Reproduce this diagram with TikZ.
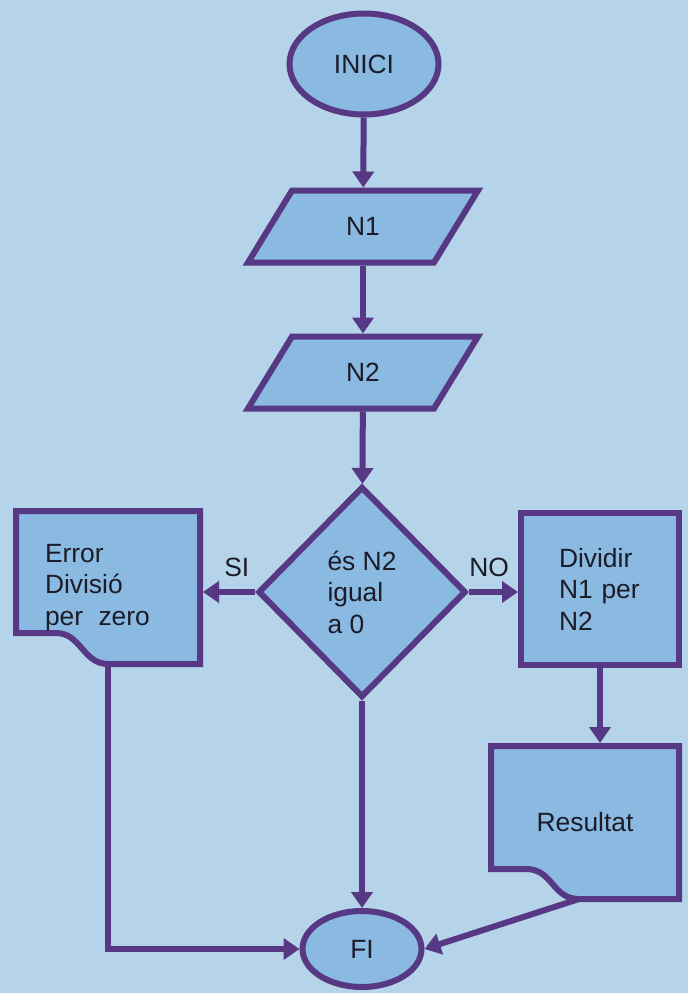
\documentclass[tikz,border=0pt]{standalone}
\usepackage{fontspec}
\setmainfont{Liberation Sans}
\usepackage{pgf,tikz}
\usetikzlibrary{arrows.meta}
\usetikzlibrary{shapes.geometric}
\usetikzlibrary{calc}
\usepackage{color}
\definecolor{paper}{RGB}{181,211,233}
\definecolor{boxfill}{RGB}{138,185,226}
\definecolor{ink}{RGB}{86,56,132}
\definecolor{letter}{RGB}{28,28,40}
\pgfdeclarelayer{bg}
\pgfsetlayers{bg,main}

\begin{document}
\begin{tikzpicture}[x=1pt,y=-1pt,line join=miter,>={Triangle[width=21pt,length=16pt]},
  every node/.style={font=\fontsize{26.4}{31.5}\selectfont,text=letter},
  shp/.style={draw=ink,line width=6pt,fill=boxfill},
  flow/.style={draw=ink,line width=6pt,->},
  term/.style={shp,ellipse,inner sep=0pt},
  io/.style={rectangle,outer sep=3pt,minimum width=186pt,minimum height=72pt},
  doc/.style={rectangle,outer sep=0pt,inner ysep=0pt}]
\begin{pgfonlayer}{bg}
\fill[paper] (0,0) rectangle (688,993);
\end{pgfonlayer}
\useasboundingbox (0,0) rectangle (688,993);

\node[term,minimum width=149pt,minimum height=101pt] (inici) at (364,64) {INICI};
\node[io] (n1) at (363,226.5) {N1};
\node[io] (n2) at (363,372.5) {N2};
\node[shp,diamond,minimum width=208pt,minimum height=211pt,inner sep=0pt,align=left] (dec) at (362,592) {és N2\\igual\\a 0};
\node[doc,minimum width=184pt,minimum height=153pt,text width=126pt,inner xsep=29pt,align=left] (err) at (108,587.5) {Error\\Divisió\\per\hspace{0.25em} zero};
\node[shp,minimum width=158pt,minimum height=152pt,text width=82pt,inner xsep=38pt,align=left] (div) at (600,589) {Dividir\\N1 per\\N2};
\node[doc,minimum width=188pt,minimum height=153pt] (res) at (585,822.5) {Resultat};
\node[term,minimum width=119pt,minimum height=76pt] (fi) at (362,949) {FI};

\coordinate (errout) at ($(err.south east)+(-92,0)$);
\coordinate (resout) at ($(res.south east)+(-100,0)$);
\begin{pgfonlayer}{bg}
\foreach \n in {n1,n2}
  \draw[shp] ($(\n.south west)+(-19,-3)$) -- ($(\n.north west)+(25,3)$)
    -- ($(\n.north east)+(19,3)$) -- ($(\n.south east)+(-25,-3)$) -- cycle;
\draw[shp] (err.south east) -- (err.north east) -- (err.north west) -- ($(err.south west)+(0,-31)$)
  -- ++(40,0) .. controls +(25,0) and +(-25,0) .. (errout) -- cycle;
\draw[shp] (res.south east) -- (res.north east) -- (res.north west) -- ($(res.south west)+(0,-30)$)
  -- ++(35,0) .. controls +(27,0) and +(-27,0) .. (resout) -- cycle;
\end{pgfonlayer}

\draw[flow] (inici) -- (n1);
\draw[flow] (n1) -- (n2);
\draw[flow] (n2) -- (dec);
\draw[flow,shorten >=3pt] (dec.west) -- node[above=9pt,pos=0.33] (si) {SI} (dec.west -| err.east);
\draw[flow] (dec.east) -- node[above=9pt,pos=0.41] (no) {NO} (dec.east -| div.west);
\draw[flow,shorten >=3pt] (div.south) -- (div.south |- res.north);
\draw[flow] (dec) -- (fi);
\draw[flow] (errout) |- (fi);
\draw[flow] (resout) -- (fi.east);
\end{tikzpicture}
\end{document}
